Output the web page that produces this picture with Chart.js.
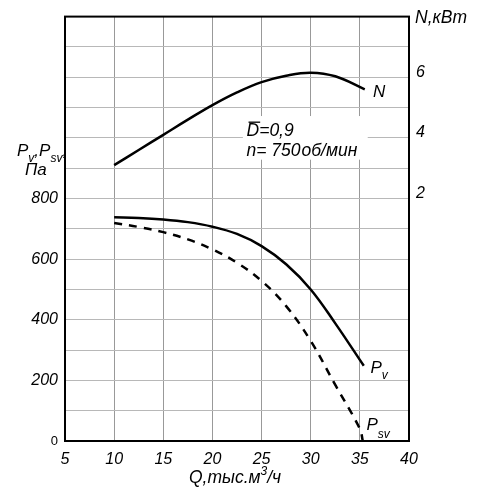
<!DOCTYPE html>
<html lang="ru">
<head>
  <meta charset="UTF-8" />
  <title>Характеристика вентилятора</title>
  <style>
    body { margin: 0; background: #fff; }
    canvas { display: block; }
  </style>
</head>
<body>
  <canvas id="fanChart" width="483" height="497"></canvas>

  <script src="https://cdn.jsdelivr.net/npm/chart.js"></script>
  <script>
    // данные
    const qN = [10, 12.5, 15, 17.5, 20, 22.5, 25, 27.5, 30, 32.5, 35.5];
    const nValues = [3.1, 3.6, 4.1, 4.6, 5.08, 5.5, 5.84, 6.05, 6.15, 6.03, 5.6];

    const qPv = [10, 12.5, 15, 17.5, 20, 22.5, 25, 27.5, 30, 32.5, 35.4];
    const pvValues = [738, 736, 731, 722, 707, 683, 643, 583, 500, 388, 248];

    const qPsv = [10, 12.5, 15, 17.5, 20, 22.5, 25, 27.5, 30, 32.5, 35, 35.3];
    const psvValues = [719, 706, 689, 665, 632, 588, 528, 445, 330, 185, 40, 0];

    const pTicks = [0, 200, 400, 600, 800];
    const nTicks = [2, 4, 6];

    const FONT = "'Liberation Sans', Arial, sans-serif";
    const toPoints = (xs, ys) => xs.map((x, i) => ({ x, y: ys[i] }));

    // текст с индексами: [текст, смещение по y, размер]
    function drawParts(ctx, parts, x, y) {
      let cx = x;
      parts.forEach(p => {
        ctx.font = `italic ${p[2] || 16}px ${FONT}`;
        ctx.fillText(p[0], cx, y + (p[1] || 0));
        cx += ctx.measureText(p[0]).width;
      });
      return cx;
    }

    const labelsPlugin = {
      id: "labels",
      beforeDatasetsDraw(chart) {
        const { ctx, chartArea: a, scales } = chart;
        // белая подложка под подпись
        const x0 = scales.x.getPixelForValue(23.1), x1 = scales.x.getPixelForValue(35.8);
        const y0 = scales.y2.getPixelForValue(4.72), y1 = scales.y2.getPixelForValue(3.28);
        ctx.save();
        ctx.fillStyle = "#fff";
        ctx.fillRect(x0, y0, x1 - x0, y1 - y0);
        // рамка
        ctx.strokeStyle = "#000";
        ctx.lineWidth = 2;
        ctx.strokeRect(a.left, a.top, a.right - a.left, a.bottom - a.top);
        ctx.restore();
      },
      afterDraw(chart) {
        const { ctx, scales } = chart;
        const sx = scales.x, sy = scales.y, sn = scales.y2;
        ctx.save();
        ctx.fillStyle = "#000";
        ctx.textBaseline = "alphabetic";
        ctx.textAlign = "left";

        // подписи кривых
        drawParts(ctx, [["N", 0, 17]], sx.getPixelForValue(36.34), sn.getPixelForValue(5.34));
        drawParts(ctx, [["P", 0, 17], ["v", 6, 12]], sx.getPixelForValue(36.08), sy.getPixelForValue(225));
        drawParts(ctx, [["P", 0, 17], ["sv", 8, 12]], sx.getPixelForValue(35.67), sy.getPixelForValue(36));

        // D=0,9 и n
        const ax = sx.getPixelForValue(23.47);
        const ay1 = sn.getPixelForValue(4.06), ay2 = sn.getPixelForValue(3.4);
        drawParts(ctx, [["D=0,9", 0, 17.5]], ax, ay1);
        ctx.font = `italic 17.5px ${FONT}`;
        const dw = ctx.measureText("D").width;
        ctx.fillRect(ax + 2, ay1 - 14.5, dw - 1, 1.3);
        const nx = drawParts(ctx, [["n= 750", 0, 17.5]], ax, ay2);
        drawParts(ctx, [["об/мин", 0, 17.5]], nx + 1, ay2);

        // заголовки осей
        drawParts(ctx, [["P", 0, 17], ["v", 6, 12], [",", 0, 17], ["P", 0, 17], ["sv", 6, 12], [",", 0, 17]], 17, 156);
        drawParts(ctx, [["Па", 0, 17]], 25, 175);
        drawParts(ctx, [["N,кВт", 0, 17.5]], 415, 22.5);
        const qx = drawParts(ctx, [["Q,тыс.м", 0, 17.5]], 189, 483);
        const qx2 = drawParts(ctx, [["3", -8, 12]], qx, 483);
        drawParts(ctx, [["/ч", 0, 17.5]], qx2, 483);
        ctx.restore();
      }
    };

    new Chart(document.getElementById("fanChart"), {
      type: "line",
      data: {
        datasets: [
          { label: "N", data: toPoints(qN, nValues), yAxisID: "y2",
            borderColor: "#000", borderWidth: 2.5, pointRadius: 0, tension: 0.4 },
          { label: "Pv", data: toPoints(qPv, pvValues), yAxisID: "y",
            borderColor: "#000", borderWidth: 2.5, pointRadius: 0, tension: 0.4 },
          { label: "Psv", data: toPoints(qPsv, psvValues), yAxisID: "y",
            borderColor: "#000", borderWidth: 2.5, borderDash: [8, 7], pointRadius: 0, tension: 0.4 }
        ]
      },
      options: {
        responsive: false,
        animation: false,
        layout: { padding: { top: 12, left: 0, right: 0, bottom: 0 } },
        plugins: { legend: { display: false }, tooltip: { enabled: false } },
        scales: {
          x: {
            type: "linear", min: 5, max: 40,
            border: { display: false },
            grid: { color: "#999", lineWidth: 1, drawTicks: false },
            ticks: { stepSize: 5, padding: 9, color: "#000", font: { family: FONT, size: 16, style: "italic" } },
            afterFit: s => { s.height = 56; }
          },
          y: {
            position: "left", min: 0, max: 1400,
            border: { display: false },
            grid: { color: "#b8b8b8", lineWidth: 1, drawTicks: false },
            ticks: {
              stepSize: 100, padding: 7, color: "#000",
              callback: v => pTicks.includes(v) ? String(v) : "",
              font: c => c.tick && c.tick.value === 0
                ? { family: FONT, size: 13, style: "normal" }
                : { family: FONT, size: 16, style: "italic" }
            },
            afterFit: s => { s.width = 65; }
          },
          y2: {
            position: "right", min: -6, max: 8,
            border: { display: false },
            grid: { display: false, drawTicks: false },
            ticks: {
              stepSize: 1, padding: 7, color: "#000", labelOffset: -5,
              callback: v => nTicks.includes(v) ? String(v) : "",
              font: { family: FONT, size: 16, style: "italic" }
            },
            afterFit: s => { s.width = 74; }
          }
        }
      },
      plugins: [labelsPlugin]
    });
  </script>
</body>
</html>
